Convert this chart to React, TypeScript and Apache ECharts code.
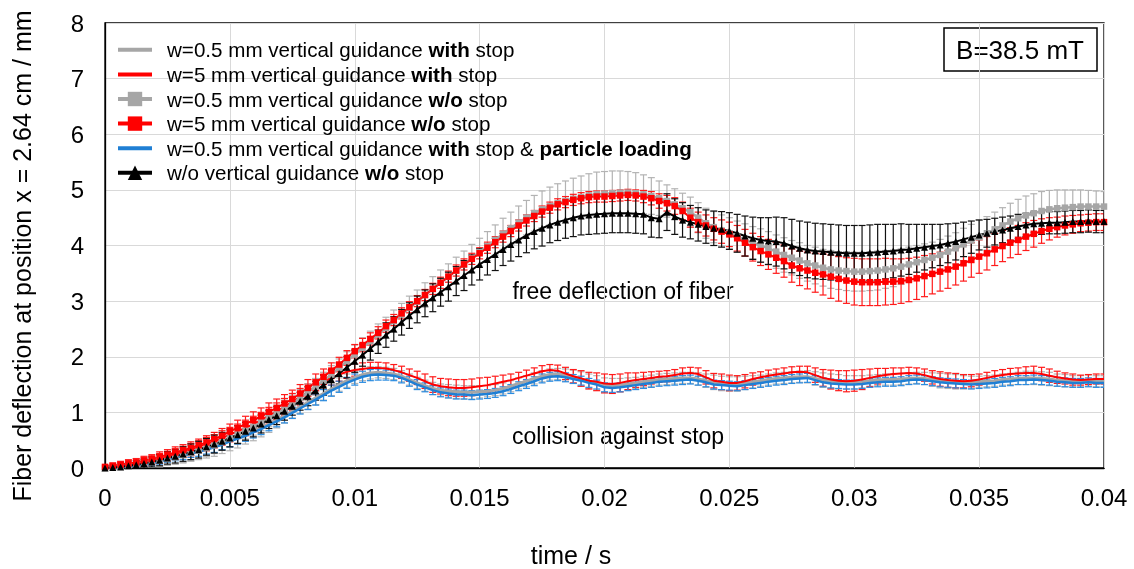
import React, { useEffect, useRef } from 'react';
import * as echarts from 'echarts';

const FONT = "'Liberation Sans', Arial, Helvetica, sans-serif";
const DT = 1 / 3200; // sampling interval of the high-speed recording (s)

const X_TICKS = ['0', '0.005', '0.01', '0.015', '0.02', '0.025', '0.03', '0.035', '0.04'];
const Y_TICKS = ['0', '1', '2', '3', '4', '5', '6', '7', '8'];

const SERIES_NAMES = [
  'w=0.5 mm vertical guidance with stop',
  'w=5 mm vertical guidance with stop',
  'w=0.5 mm vertical guidance w/o stop',
  'w=5 mm vertical guidance w/o stop',
  'w=0.5 mm vertical guidance with stop & particle loading',
  'w/o vertical guidance w/o stop',
];
const LEGEND_LABELS = [
  'w=0.5 mm vertical guidance {b|with} stop',
  'w=5 mm vertical guidance {b|with} stop',
  'w=0.5 mm vertical guidance {b|w/o} stop',
  'w=5 mm vertical guidance {b|w/o} stop',
  'w=0.5 mm vertical guidance {b|with} stop & {b|particle loading}',
  'w/o vertical guidance {b|w/o} stop',
];

const GRAY_STOP = [
  0, 0.01, 0.02, 0.03, 0.05, 0.07, 0.09, 0.12,
  0.16, 0.19, 0.22, 0.26, 0.30, 0.34, 0.38, 0.43,
  0.49, 0.54, 0.60, 0.66, 0.72, 0.79, 0.86, 0.94,
  1.02, 1.10, 1.18, 1.26, 1.34, 1.42, 1.50, 1.57,
  1.63, 1.68, 1.71, 1.72, 1.71, 1.69, 1.65, 1.59,
  1.53, 1.48, 1.43, 1.40, 1.38, 1.37, 1.36, 1.36,
  1.37, 1.38, 1.40, 1.43, 1.47, 1.52, 1.56, 1.61,
  1.65, 1.68, 1.69, 1.67, 1.64, 1.60, 1.56, 1.53,
  1.49, 1.48, 1.49, 1.51, 1.53, 1.55, 1.57, 1.59,
  1.60, 1.61, 1.62, 1.62, 1.60, 1.57, 1.54, 1.52,
  1.51, 1.51, 1.53, 1.55, 1.57, 1.59, 1.61, 1.62,
  1.63, 1.64, 1.64, 1.61, 1.58, 1.56, 1.55, 1.54,
  1.54, 1.55, 1.57, 1.58, 1.59, 1.59, 1.60, 1.61,
  1.62, 1.61, 1.59, 1.57, 1.56, 1.55, 1.54, 1.54,
  1.55, 1.56, 1.57, 1.59, 1.60, 1.61, 1.62, 1.62,
  1.61, 1.60, 1.58, 1.57, 1.56, 1.56, 1.57, 1.56,
  1.56,
];
const GRAY_STOP_ERR = [
  .03, .04, .05, .06, .07, .08, .09, .10,
  .11, .12, .13, .14, .15, .16, .17, .17,
  .18, .18, .17, .17, .16, .15, .14, .13,
  .12, .12, .12, .12, .12, .12, .12, .12,
  .11, .11, .11, .10, .10, .10, .10, .10,
  .10, .10, .11, .11, .12, .12, .12, .12,
  .11, .10, .10, .10, .10, .10, .10, .10,
  .10, .10, .10, .11, .12, .13, .13, .13,
  .13, .13, .12, .11, .10, .10, .10, .10,
  .10, .10, .10, .10, .11, .12, .13, .13,
  .13, .13, .12, .11, .10, .10, .10, .10,
  .10, .10, .11, .12, .13, .13, .13, .12,
  .12, .11, .10, .10, .10, .10, .10, .10,
  .10, .11, .12, .13, .13, .13, .12, .11,
  .10, .10, .10, .10, .10, .11, .12, .12,
  .12, .12, .11, .11, .10, .10, .10, .10,
  .10,
];

const RED_STOP = [
  0.02, 0.03, 0.05, 0.07, 0.09, 0.11, 0.14, 0.17,
  0.21, 0.25, 0.29, 0.33, 0.38, 0.43, 0.48, 0.54,
  0.60, 0.66, 0.72, 0.79, 0.86, 0.94, 1.02, 1.10,
  1.19, 1.28, 1.37, 1.46, 1.55, 1.62, 1.68, 1.73,
  1.76, 1.78, 1.80, 1.80, 1.79, 1.76, 1.72, 1.67,
  1.62, 1.56, 1.50, 1.47, 1.45, 1.44, 1.44, 1.45,
  1.47, 1.49, 1.52, 1.55, 1.58, 1.62, 1.66, 1.70,
  1.74, 1.76, 1.75, 1.70, 1.65, 1.61, 1.57, 1.55,
  1.52, 1.51, 1.53, 1.56, 1.58, 1.60, 1.62, 1.64,
  1.65, 1.67, 1.70, 1.71, 1.69, 1.63, 1.57, 1.55,
  1.53, 1.53, 1.56, 1.60, 1.63, 1.66, 1.68, 1.70,
  1.72, 1.73, 1.72, 1.67, 1.62, 1.59, 1.57, 1.56,
  1.57, 1.59, 1.62, 1.65, 1.67, 1.69, 1.70, 1.71,
  1.70, 1.67, 1.63, 1.60, 1.58, 1.57, 1.56, 1.57,
  1.59, 1.62, 1.65, 1.67, 1.69, 1.70, 1.71, 1.71,
  1.69, 1.66, 1.63, 1.61, 1.59, 1.58, 1.59, 1.60,
  1.60,
];
const RED_STOP_ERR = [
  .03, .04, .05, .06, .07, .08, .08, .09,
  .09, .10, .10, .11, .11, .12, .12, .13,
  .13, .13, .14, .14, .14, .15, .15, .15,
  .15, .15, .14, .14, .13, .13, .12, .12,
  .11, .11, .10, .10, .10, .10, .11, .11,
  .12, .13, .14, .14, .15, .15, .15, .15,
  .15, .14, .13, .12, .11, .10, .10, .10,
  .10, .10, .10, .11, .12, .14, .15, .16,
  .17, .17, .16, .15, .13, .12, .11, .10,
  .10, .10, .10, .10, .11, .12, .13, .14,
  .14, .13, .12, .11, .10, .10, .10, .10,
  .10, .10, .11, .13, .15, .17, .18, .19,
  .19, .18, .16, .14, .12, .11, .10, .10,
  .10, .11, .12, .13, .13, .13, .12, .11,
  .10, .10, .10, .10, .10, .10, .11, .12,
  .12, .12, .11, .10, .10, .09, .09, .09,
  .09,
];

const GRAY_FREE = [
  0, 0.01, 0.02, 0.04, 0.06, 0.08, 0.10, 0.13,
  0.16, 0.19, 0.23, 0.27, 0.31, 0.36, 0.41, 0.47,
  0.53, 0.60, 0.67, 0.74, 0.82, 0.90, 0.98, 1.07,
  1.16, 1.26, 1.36, 1.46, 1.57, 1.68, 1.80, 1.92,
  2.04, 2.16, 2.28, 2.40, 2.52, 2.64, 2.76, 2.88,
  2.99, 3.11, 3.22, 3.33, 3.44, 3.55, 3.66, 3.77,
  3.88, 3.99, 4.10, 4.21, 4.31, 4.41, 4.50, 4.58,
  4.65, 4.71, 4.76, 4.80, 4.84, 4.87, 4.90, 4.92,
  4.93, 4.94, 4.95, 4.95, 4.94, 4.92, 4.89, 4.85,
  4.80, 4.74, 4.67, 4.60, 4.50, 4.40, 4.33, 4.27,
  4.22, 4.16, 4.10, 4.05, 4.00, 3.95, 3.89, 3.83,
  3.78, 3.73, 3.68, 3.64, 3.60, 3.57, 3.55, 3.54,
  3.53, 3.53, 3.54, 3.55, 3.57, 3.59, 3.62, 3.66,
  3.70, 3.74, 3.78, 3.83, 3.89, 3.95, 4.02, 4.09,
  4.15, 4.22, 4.29, 4.36, 4.43, 4.49, 4.54, 4.58,
  4.62, 4.65, 4.67, 4.68, 4.69, 4.70, 4.70, 4.70,
  4.70,
];
const GRAY_FREE_ERR = [
  .03, .04, .05, .06, .07, .08, .09, .10,
  .11, .12, .13, .14, .14, .15, .15, .15,
  .15, .15, .15, .15, .15, .15, .15, .15,
  .15, .15, .15, .15, .15, .16, .16, .17,
  .17, .18, .18, .19, .19, .20, .20, .21,
  .21, .22, .22, .23, .23, .24, .24, .25,
  .25, .26, .27, .28, .29, .30, .31, .32,
  .33, .34, .35, .36, .37, .38, .39, .40,
  .40, .40, .39, .38, .37, .35, .33, .31,
  .29, .28, .27, .27, .27, .27, .28, .28,
  .28, .28, .29, .29, .30, .30, .30, .31,
  .31, .32, .32, .33, .33, .34, .34, .35,
  .35, .35, .35, .35, .34, .33, .32, .31,
  .30, .29, .28, .28, .28, .28, .29, .29,
  .30, .30, .31, .32, .33, .34, .35, .35,
  .35, .34, .33, .32, .31, .30, .29, .28,
  .27,
];

const RED_FREE = [
  0.02, 0.04, 0.06, 0.08, 0.10, 0.13, 0.16, 0.20,
  0.24, 0.28, 0.32, 0.36, 0.41, 0.46, 0.52, 0.58,
  0.66, 0.72, 0.79, 0.86, 0.93, 1.01, 1.08, 1.16,
  1.24, 1.34, 1.44, 1.54, 1.64, 1.75, 1.86, 1.98,
  2.10, 2.21, 2.32, 2.43, 2.55, 2.66, 2.78, 2.89,
  3.00, 3.11, 3.22, 3.33, 3.44, 3.55, 3.66, 3.76,
  3.86, 3.96, 4.06, 4.16, 4.26, 4.36, 4.45, 4.53,
  4.61, 4.68, 4.74, 4.78, 4.82, 4.85, 4.87, 4.88,
  4.88, 4.89, 4.90, 4.91, 4.90, 4.88, 4.85, 4.80,
  4.76, 4.71, 4.62, 4.50, 4.42, 4.36, 4.30, 4.25,
  4.20, 4.13, 4.05, 3.97, 3.90, 3.84, 3.78, 3.72,
  3.64, 3.59, 3.55, 3.51, 3.48, 3.44, 3.40, 3.37,
  3.35, 3.34, 3.34, 3.34, 3.35, 3.35, 3.36, 3.38,
  3.41, 3.45, 3.49, 3.53, 3.57, 3.62, 3.68, 3.74,
  3.80, 3.86, 3.93, 3.99, 4.05, 4.10, 4.16, 4.21,
  4.26, 4.30, 4.33, 4.36, 4.38, 4.40, 4.41, 4.42,
  4.42,
];
const RED_FREE_ERR = [
  .03, .05, .06, .07, .07, .08, .08, .09,
  .09, .10, .10, .11, .11, .12, .12, .13,
  .13, .14, .14, .15, .15, .16, .16, .16,
  .16, .16, .15, .15, .14, .14, .13, .13,
  .12, .12, .11, .11, .11, .10, .10, .10,
  .10, .10, .10, .10, .10, .10, .10, .10,
  .10, .10, .10, .10, .10, .10, .10, .10,
  .10, .10, .10, .10, .10, .10, .10, .10,
  .10, .10, .10, .10, .10, .11, .12, .13,
  .14, .15, .16, .17, .18, .19, .20, .21,
  .22, .23, .24, .25, .26, .27, .28, .29,
  .30, .31, .33, .35, .37, .39, .40, .41,
  .42, .42, .42, .42, .42, .41, .40, .39,
  .38, .37, .36, .35, .34, .33, .32, .31,
  .30, .30, .29, .28, .27, .26, .25, .24,
  .22, .20, .18, .17, .16, .15, .15, .15,
  .15,
];

const BLUE_LOAD = [
  0, 0.01, 0.02, 0.03, 0.05, 0.07, 0.09, 0.12,
  0.16, 0.19, 0.22, 0.26, 0.29, 0.33, 0.37, 0.42,
  0.48, 0.53, 0.58, 0.64, 0.70, 0.77, 0.84, 0.91,
  0.99, 1.07, 1.15, 1.23, 1.31, 1.39, 1.46, 1.53,
  1.59, 1.64, 1.67, 1.68, 1.67, 1.66, 1.62, 1.56,
  1.50, 1.45, 1.40, 1.36, 1.34, 1.32, 1.32, 1.31,
  1.32, 1.33, 1.35, 1.38, 1.42, 1.47, 1.51, 1.56,
  1.61, 1.64, 1.65, 1.63, 1.60, 1.57, 1.53, 1.50,
  1.45, 1.44, 1.45, 1.47, 1.49, 1.51, 1.53, 1.55,
  1.56, 1.57, 1.58, 1.59, 1.57, 1.54, 1.50, 1.49,
  1.48, 1.47, 1.49, 1.51, 1.53, 1.55, 1.57, 1.58,
  1.60, 1.61, 1.62, 1.58, 1.54, 1.52, 1.51, 1.50,
  1.50, 1.51, 1.53, 1.54, 1.55, 1.55, 1.56, 1.58,
  1.59, 1.58, 1.56, 1.54, 1.53, 1.52, 1.51, 1.50,
  1.51, 1.52, 1.53, 1.55, 1.56, 1.58, 1.58, 1.59,
  1.58, 1.57, 1.55, 1.54, 1.53, 1.53, 1.54, 1.53,
  1.53,
];
const BLUE_LOAD_ERR = [
  .02, .02, .03, .03, .04, .04, .05, .05,
  .06, .06, .07, .07, .08, .08, .09, .09,
  .10, .10, .10, .10, .10, .10, .10, .10,
  .10, .10, .10, .10, .10, .10, .10, .10,
  .10, .10, .10, .10, .09, .09, .09, .09,
  .09, .08, .08, .08, .08, .08, .08, .08,
  .08, .08, .08, .08, .08, .08, .08, .08,
  .08, .08, .08, .08, .08, .08, .08, .08,
  .08, .08, .08, .08, .08, .08, .08, .08,
  .08, .08, .08, .08, .08, .08, .08, .08,
  .08, .08, .08, .08, .08, .08, .08, .08,
  .08, .08, .08, .08, .08, .08, .08, .08,
  .08, .08, .08, .08, .08, .08, .08, .08,
  .08, .08, .08, .08, .08, .08, .08, .08,
  .08, .08, .08, .08, .08, .08, .08, .08,
  .08, .08, .08, .08, .08, .08, .08, .08,
  .08,
];

const BLACK_FREE = [
  0, 0.01, 0.02, 0.04, 0.06, 0.08, 0.11, 0.14,
  0.18, 0.21, 0.25, 0.29, 0.33, 0.38, 0.43, 0.48,
  0.54, 0.60, 0.66, 0.72, 0.79, 0.87, 0.94, 1.02,
  1.11, 1.20, 1.29, 1.39, 1.49, 1.59, 1.70, 1.81,
  1.92, 2.03, 2.15, 2.27, 2.39, 2.50, 2.62, 2.74,
  2.85, 2.96, 3.06, 3.16, 3.26, 3.36, 3.46, 3.56,
  3.66, 3.75, 3.84, 3.93, 4.02, 4.10, 4.18, 4.25,
  4.31, 4.37, 4.42, 4.46, 4.50, 4.53, 4.55, 4.56,
  4.57, 4.58, 4.58, 4.58, 4.57, 4.56, 4.50, 4.48,
  4.60, 4.52, 4.46, 4.42, 4.38, 4.34, 4.31, 4.29,
  4.26, 4.22, 4.17, 4.13, 4.10, 4.08, 4.07, 4.04,
  3.99, 3.95, 3.92, 3.90, 3.89, 3.88, 3.87, 3.86,
  3.86, 3.86, 3.87, 3.88, 3.89, 3.90, 3.92, 3.93,
  3.95, 3.97, 3.99, 4.01, 4.04, 4.07, 4.11, 4.15,
  4.19, 4.22, 4.25, 4.28, 4.31, 4.34, 4.37, 4.39,
  4.40, 4.41, 4.41, 4.42, 4.43, 4.43, 4.44, 4.43,
  4.43,
];
const BLACK_FREE_ERR = [
  .03, .04, .05, .06, .07, .08, .09, .10,
  .11, .12, .13, .14, .15, .15, .16, .16,
  .16, .16, .16, .16, .16, .16, .16, .16,
  .16, .16, .17, .17, .18, .18, .19, .19,
  .20, .20, .21, .21, .22, .22, .23, .23,
  .24, .24, .25, .25, .26, .26, .27, .27,
  .28, .28, .29, .29, .30, .30, .31, .31,
  .32, .32, .33, .33, .34, .34, .35, .35,
  .35, .35, .35, .35, .35, .35, .35, .34,
  .33, .32, .31, .30, .30, .30, .31, .32,
  .33, .34, .36, .38, .40, .42, .44, .46,
  .48, .49, .50, .50, .50, .50, .50, .50,
  .50, .50, .50, .50, .49, .48, .47, .45,
  .43, .41, .39, .37, .35, .33, .31, .29,
  .27, .25, .24, .23, .22, .22, .21, .21,
  .20, .20, .20, .20, .20, .20, .20, .20,
  .20,
];

const VALUES = [GRAY_STOP, RED_STOP, GRAY_FREE, RED_FREE, BLUE_LOAD, BLACK_FREE];
const ERRORS = [GRAY_STOP_ERR, RED_STOP_ERR, GRAY_FREE_ERR, RED_FREE_ERR, BLUE_LOAD_ERR, BLACK_FREE_ERR];
const COLORS = ['#a6a6a6', '#ff0000', '#a6a6a6', '#ff0000', '#1f7fd4', '#000000'];
const ERR_COLORS = ['#b3b3b3', '#ff1a1a', '#b3b3b3', '#ff1a1a', '#2b8ce0', '#111111'];
const SYMBOLS = ['none', 'none', 'rect', 'rect', 'none', 'triangle'];
const LINE_WIDTHS = [3, 2, 2.5, 2, 2.5, 2];
const LINE_ICON = 'path://M0,0L34,0L34,4L0,4Z';

export default function App() {
  const ref = useRef<HTMLDivElement>(null);
  useEffect(() => {
    if (!ref.current) return;
    const chart = echarts.init(ref.current, undefined, { renderer: 'svg' });
    const series: any[] = [];
    VALUES.forEach((vals, k) => {
      const errs = ERRORS[k];
      const color = ERR_COLORS[k];
      series.push({
        type: 'custom',
        name: SERIES_NAMES[k] + ' (error)',
        silent: true,
        clip: true,
        encode: { x: 0, y: [1, 2] },
        data: vals.map((v, i) => [i * DT, v - errs[i], v + errs[i]]),
        renderItem: (params: any, api: any) => {
          const x = api.value(0);
          const lo = api.coord([x, api.value(1)]);
          const hi = api.coord([x, api.value(2)]);
          const w = 3.5;
          const st = { stroke: color, lineWidth: 1.2 };
          return {
            type: 'group',
            children: [
              { type: 'line', shape: { x1: lo[0], y1: lo[1], x2: hi[0], y2: hi[1] }, style: st },
              { type: 'line', shape: { x1: lo[0] - w, y1: lo[1], x2: lo[0] + w, y2: lo[1] }, style: st },
              { type: 'line', shape: { x1: hi[0] - w, y1: hi[1], x2: hi[0] + w, y2: hi[1] }, style: st },
            ],
          };
        },
      });
      series.push({
        type: 'line',
        name: SERIES_NAMES[k],
        data: vals.map((v, i) => [i * DT, v]),
        symbol: SYMBOLS[k],
        symbolSize: SYMBOLS[k] === 'triangle' ? 7 : 6.5,
        showSymbol: SYMBOLS[k] !== 'none',
        lineStyle: { color: COLORS[k], width: LINE_WIDTHS[k] },
        itemStyle: { color: COLORS[k] },
        color: COLORS[k],
        silent: true,
      });
    });

    const legendData = SERIES_NAMES.map((name, k) =>
      SYMBOLS[k] === 'none' ? { name, icon: LINE_ICON } : { name });

    chart.setOption({
      animation: false,
      textStyle: { fontFamily: FONT },
      grid: {
        left: 105, right: 30, top: 23, bottom: 101,
        show: true, borderColor: '#000', borderWidth: 1.3,
      },
      legend: {
        data: legendData,
        orient: 'vertical',
        left: 116,
        top: 37.5,
        padding: 0,
        itemGap: 0,
        itemWidth: 34,
        itemHeight: 18,
        symbolKeepAspect: true,
        selectedMode: false,
        lineStyle: { width: 4 },
        formatter: (name: string) => LEGEND_LABELS[SERIES_NAMES.indexOf(name)],
        textStyle: {
          fontFamily: FONT,
          fontSize: 20.6,
          color: '#000',
          lineHeight: 24.6,
          padding: [0, 0, 0, 10],
          rich: {
            b: { fontFamily: FONT, fontSize: 20.6, fontWeight: 'bold', color: '#000', lineHeight: 24.6 },
          },
        },
      },
      xAxis: {
        type: 'value', min: 0, max: 0.04, interval: 0.005,
        axisLine: { show: true, lineStyle: { color: '#000', width: 1.3 } },
        axisTick: { show: false },
        axisLabel: {
          fontFamily: FONT, fontSize: 24, color: '#000', margin: 17,
          formatter: (_v: number, i: number) => X_TICKS[i],
        },
        splitLine: { show: true, lineStyle: { color: '#d9d9d9', width: 1 } },
      },
      yAxis: {
        type: 'value', min: 0, max: 8, interval: 1,
        axisLine: { show: true, lineStyle: { color: '#000', width: 1.3 } },
        axisTick: { show: false },
        axisLabel: {
          fontFamily: FONT, fontSize: 24, color: '#000', margin: 21,
          formatter: (_v: number, i: number) => Y_TICKS[i],
        },
        splitLine: { show: true, lineStyle: { color: '#d9d9d9', width: 1 } },
      },
      graphic: [
        {
          type: 'text', x: 22, y: 256, rotation: Math.PI / 2,
          style: {
            text: 'Fiber deflection at position x = 2.64 cm / mm',
            fontFamily: FONT, fontSize: 25, fill: '#000',
            textAlign: 'center', textVerticalAlign: 'middle',
          },
        },
        {
          type: 'text', x: 571, y: 555,
          style: {
            text: 'time / s', fontFamily: FONT, fontSize: 25, fill: '#000',
            textAlign: 'center', textVerticalAlign: 'middle',
          },
        },
        {
          type: 'text', x: 623, y: 291,
          style: {
            text: 'free deflection of fiber', fontFamily: FONT, fontSize: 23, fill: '#000',
            textAlign: 'center', textVerticalAlign: 'middle',
          },
        },
        {
          type: 'text', x: 618, y: 436,
          style: {
            text: 'collision against stop', fontFamily: FONT, fontSize: 23, fill: '#000',
            textAlign: 'center', textVerticalAlign: 'middle',
          },
        },
        {
          type: 'rect', shape: { x: 944, y: 28, width: 153, height: 43 },
          style: { fill: 'rgba(0,0,0,0)', stroke: '#000', lineWidth: 1.5 },
        },
        {
          type: 'text', x: 1020, y: 50,
          style: {
            text: 'B=38.5 mT', fontFamily: FONT, fontSize: 26, fill: '#000',
            textAlign: 'center', textVerticalAlign: 'middle',
          },
        },
      ],
      series,
    });
    return () => chart.dispose();
  }, []);
  return <div ref={ref} style={{ position: 'fixed', left: 0, top: 0, width: 1134, height: 569 }} />;
}
